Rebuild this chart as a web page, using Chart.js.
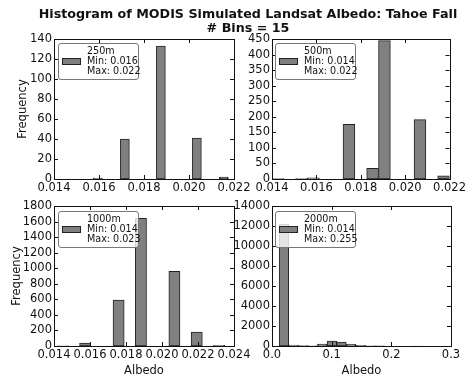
<!DOCTYPE html>
<html>
<head>
<meta charset="utf-8">
<script src="https://cdn.jsdelivr.net/npm/chart.js@4.4.0/dist/chart.umd.min.js"></script>
<style>
  html, body { margin: 0; padding: 0; background: #fff; }
  #fig { position: relative; width: 468px; height: 379px; overflow: hidden; font-family: "DejaVu Sans", sans-serif; color: #111; }
  #fig canvas { position: absolute; left: 0; top: 0; }
  .suptitle { position: absolute; left: 248px; transform: translateX(-50%); white-space: nowrap; font-weight: bold; font-size: 12.7px; line-height: 13.8px; text-align: center; }
  .legend { position: absolute; width: 81px; height: 37px; box-sizing: border-box; border: 1px solid #777; border-radius: 3px; background: rgba(255, 255, 255, 0.8); }
  .legend .patch { position: absolute; left: 3px; top: 14px; width: 17px; height: 5px; background: #808080; border: 1px solid #222; }
  .legend .txt { position: absolute; left: 28px; top: 2px; font-size: 9.6px; line-height: 10px; white-space: pre; }
</style>
</head>
<body>
<div id="fig">
  <canvas id="h250" width="468" height="379"></canvas>
  <canvas id="h500" width="468" height="379"></canvas>
  <canvas id="h1000" width="468" height="379"></canvas>
  <canvas id="h2000" width="468" height="379"></canvas>
  <div class="suptitle" style="top:7px">Histogram of MODIS Simulated Landsat Albedo: Tahoe Fall<br># Bins = 15</div>
  <div class="legend" style="left:58px; top:43px"><div class="patch"></div><div class="txt">250m
Min: 0.016
Max: 0.022</div></div>
  <div class="legend" style="left:275px; top:43px"><div class="patch"></div><div class="txt">500m
Min: 0.014
Max: 0.022</div></div>
  <div class="legend" style="left:58px; top:211px"><div class="patch"></div><div class="txt">1000m
Min: 0.014
Max: 0.023</div></div>
  <div class="legend" style="left:275px; top:211px"><div class="patch"></div><div class="txt">2000m
Min: 0.014
Max: 0.255</div></div>
</div>
<script>
// counts per bin (15 bins each)
const counts250 = [1, 0, 0, 40, 0, 0, 0, 133, 0, 0, 0, 41, 0, 0, 2];
const counts500 = [1, 0, 1, 4, 0, 0, 176, 0, 34, 445, 0, 0, 191, 0, 10];
const counts1000 = [3, 0, 38, 0, 0, 590, 0, 1640, 0, 0, 960, 0, 180, 0, 8];
const counts2000 = [12200, 80, 30, 10, 180, 480, 380, 170, 60, 20, 5, 0, 0, 0, 2];

// bin range [first edge, last edge]
const range250 = [0.01575, 0.02175];
const range500 = [0.0140, 0.0220];
const range1000 = [0.01418, 0.02348];
const range2000 = [0.012, 0.253];

// tick values
const xTicks500 = [0.014, 0.016, 0.018, 0.020, 0.022];
const xTicks1000 = [0.014, 0.016, 0.018, 0.020, 0.022, 0.024];
const xTicks2000 = [0.0, 0.1, 0.2, 0.3];
const yTicks250 = [0, 20, 40, 60, 80, 100, 120, 140];
const yTicks500 = [0, 50, 100, 150, 200, 250, 300, 350, 400, 450];
const yTicks1000 = [0, 200, 400, 600, 800, 1000, 1200, 1400, 1600, 1800];
const yTicks2000 = [0, 2000, 4000, 6000, 8000, 10000, 12000, 14000];

const FONT = { family: "'DejaVu Sans', sans-serif", size: 11.5 };
const INK = "#111";

function binPoints(counts, range) {
  const w = (range[1] - range[0]) / counts.length;
  return counts.map((c, i) => ({ x: range[0] + w * (i + 0.5), y: c }));
}

// matplotlib-ish box with inward ticks on all four sides
const axesFrame = {
  id: "axesFrame",
  afterDraw(chart) {
    const { ctx, chartArea: a, scales } = chart;
    const x = scales.x, y = scales.y;
    ctx.save();
    ctx.strokeStyle = INK;
    ctx.lineWidth = 1;
    ctx.beginPath();
    x.ticks.forEach((t) => {
      const px = Math.round(x.getPixelForValue(t.value)) + 0.5;
      ctx.moveTo(px, a.bottom); ctx.lineTo(px, a.bottom - 4);
      ctx.moveTo(px, a.top); ctx.lineTo(px, a.top + 4);
    });
    y.ticks.forEach((t) => {
      const py = Math.round(y.getPixelForValue(t.value)) + 0.5;
      ctx.moveTo(a.left, py); ctx.lineTo(a.left + 4, py);
      ctx.moveTo(a.right, py); ctx.lineTo(a.right - 4, py);
    });
    ctx.stroke();
    ctx.strokeRect(Math.round(a.left) + 0.5, Math.round(a.top) + 0.5,
      Math.round(a.right - a.left), Math.round(a.bottom - a.top));
    ctx.restore();
  },
};

function makeHist(id, cfg) {
  const ctx = document.getElementById(id).getContext("2d");
  const area = cfg.area; // [left, top, right, bottom]
  return new Chart(ctx, {
    type: "bar",
    data: {
      datasets: [{
        data: binPoints(cfg.counts, cfg.range),
        backgroundColor: "#808080",
        borderColor: "#222",
        borderWidth: 1,
        borderSkipped: false,
        barPercentage: 1,
        categoryPercentage: 1,
      }],
    },
    options: {
      responsive: false,
      animation: false,
      events: [],
      layout: {
        padding: {
          left: area[0] - cfg.yW,
          top: area[1],
          right: 468 - area[2],
          bottom: 379 - area[3] - cfg.xH,
        },
      },
      plugins: { legend: { display: false }, tooltip: { enabled: false } },
      scales: {
        x: {
          type: "linear",
          offset: false,
          min: cfg.xTicks[0],
          max: cfg.xTicks[cfg.xTicks.length - 1],
          grid: { display: false, offset: false, drawTicks: false },
          border: { display: false },
          afterBuildTicks: (s) => { s.ticks = cfg.xTicks.map((v) => ({ value: v })); },
          afterFit: (s) => { s.height = cfg.xH; },
          ticks: {
            font: FONT, color: INK, padding: 2, autoSkip: false, maxRotation: 0,
            callback: (v) => v.toFixed(cfg.xDigits),
          },
          title: {
            display: !!cfg.xTitle, text: cfg.xTitle || "", font: FONT, color: INK,
            padding: { top: 0, bottom: 0 },
          },
        },
        y: {
          min: 0,
          max: cfg.yTicks[cfg.yTicks.length - 1],
          grid: { display: false, drawTicks: false },
          border: { display: false },
          afterBuildTicks: (s) => { s.ticks = cfg.yTicks.map((v) => ({ value: v })); },
          afterFit: (s) => { s.width = cfg.yW; },
          ticks: { font: FONT, color: INK, padding: 2, autoSkip: false, callback: (v) => String(v) },
          title: {
            display: !!cfg.yTitle, text: cfg.yTitle || "", font: FONT, color: INK,
            padding: { top: cfg.yTitlePad || 0, bottom: 0 },
          },
        },
      },
    },
    plugins: [axesFrame],
  });
}

makeHist("h250", {
  counts: counts250, range: range250, xTicks: xTicks500, yTicks: yTicks250, xDigits: 3,
  area: [54, 39, 234, 179], yW: 54, xH: 17, yTitle: "Frequency", yTitlePad: 15.8,
});
makeHist("h500", {
  counts: counts500, range: range500, xTicks: xTicks500, yTicks: yTicks500, xDigits: 3,
  area: [272, 39, 451, 179], yW: 40, xH: 17,
});
makeHist("h1000", {
  counts: counts1000, range: range1000, xTicks: xTicks1000, yTicks: yTicks1000, xDigits: 3,
  area: [54, 206, 234, 346], yW: 54, xH: 32, yTitle: "Frequency", yTitlePad: 9.8, xTitle: "Albedo",
});
makeHist("h2000", {
  counts: counts2000, range: range2000, xTicks: xTicks2000, yTicks: yTicks2000, xDigits: 1,
  area: [272, 206, 451, 346], yW: 40, xH: 32, xTitle: "Albedo",
});
</script>
</body>
</html>
